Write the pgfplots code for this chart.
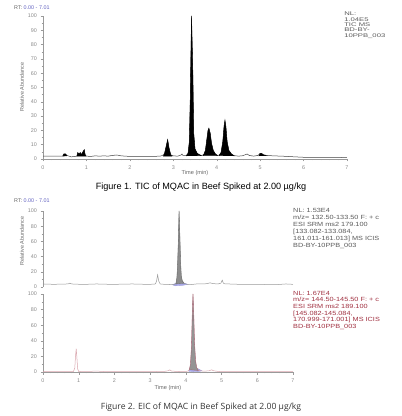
\documentclass[border=0pt]{standalone}
\usepackage{pgfplots}
\pgfplotsset{compat=1.18}
\usepackage{fontspec}
\setmainfont{Liberation Sans}
\newfontfamily\opensans{Open Sans}
\definecolor{tickgray}{HTML}{8A8A8A}
\definecolor{axgray}{HTML}{9A9A9A}
\definecolor{rtblue}{HTML}{6060C0}
\definecolor{pinktrace}{HTML}{D8A4AC}
\definecolor{pinkdark}{HTML}{A06070}
\definecolor{redtext}{HTML}{A03040}
\definecolor{blueshade}{HTML}{A8A8E8}
\pgfplotsset{
  chrom/.style={
    scale only axis, xmin=0, xmax=7, ymin=0, ymax=100,
    axis x line*=bottom, axis y line*=left,
    tick align=outside,
    axis line style={axgray, line width=0.5pt},
    every tick/.style={axgray, line width=0.4pt},
    major tick length=2.5pt, minor tick length=1.3pt,
    tick label style={font=\fontsize{5.4}{5.4}\selectfont, text=tickgray},
    /pgf/number format/assume math mode=true,
    xtick={0,...,7}, minor x tick num=4,
    clip=false,
  }
}
\begin{document}
\begin{tikzpicture}
\useasboundingbox (0,0) rectangle (402pt,416pt);

% ---------------- Figure 1 ----------------
\begin{axis}[chrom, at={(43pt,257pt)}, anchor=south west,
  width=304pt, height=143pt,
  ytick={0,10,...,100}, minor y tick num=1,
  xticklabel style={yshift=-1pt}]
\addplot[color=black!75, line width=0.5pt] coordinates {
(0,2)(0.3,2)(0.45,2)(0.48,3.5)(0.52,3.5)(0.55,2.5)(0.6,2)(0.65,1.5)(0.78,2)(0.8,4.5)(0.83,3.5)(0.86,4.5)(0.88,3)(0.92,5)(0.95,6.5)(0.97,3)(1.0,2)(1.1,1.8)(1.2,2.2)(1.3,2)(1.4,2.2)(1.5,2)(1.6,2.5)(1.7,2.8)(1.8,2.2)(1.9,2)(2.0,1.8)(2.2,1.8)(2.5,1.8)(2.7,2)(2.75,2.5)(2.8,4)(2.83,8)(2.87,13.5)(2.9,8)(2.94,3)(3.0,2.2)(3.1,2)(3.18,2.8)(3.2,3.5)(3.22,2.5)(3.3,2.5)(3.34,4)(3.37,12)(3.39,40)(3.42,100)(3.45,60)(3.47,18)(3.5,7)(3.55,4)(3.6,3)(3.65,2.5)(3.7,3)(3.74,6)(3.77,13)(3.8,20)(3.82,21.5)(3.85,18)(3.88,11)(3.92,6)(3.97,3.5)(4.02,2.5)(4.06,2.8)(4.1,4.5)(4.14,12)(4.17,23)(4.19,27)(4.21,23)(4.24,12)(4.28,6)(4.34,3.5)(4.4,2.4)(4.5,2)(4.6,2.3)(4.7,3.5)(4.75,2.5)(4.85,2)(4.95,2.5)(5.0,4)(5.03,4)(5.07,3)(5.15,2.5)(5.3,2.2)(5.5,2)(5.8,1.5)(6.0,1.2)(6.5,1.2)(7.0,1)};
% filled peaks
\addplot[fill=black, draw=black, line width=0.3pt] coordinates {(0.46,2)(0.48,3.5)(0.52,3.5)(0.55,2.2)} -- cycle;
\addplot[fill=black, draw=black, line width=0.3pt] coordinates {(0.78,2)(0.8,4.5)(0.83,3.5)(0.86,4.5)(0.88,3)(0.92,5)(0.95,6.5)(0.97,3)(0.99,2)} -- cycle;
\addplot[fill=black, draw=black, line width=0.3pt] coordinates {(2.77,2)(2.8,4)(2.83,8)(2.87,13.5)(2.9,8)(2.94,3)(2.97,2)} -- cycle;
\addplot[fill=black, draw=black, line width=0.3pt] coordinates {(3.3,2.2)(3.34,4)(3.37,12)(3.39,40)(3.42,100)(3.45,60)(3.47,18)(3.5,7)(3.55,4)(3.6,3)(3.65,2.3)} -- cycle;
\addplot[fill=black, draw=black, line width=0.3pt] coordinates {(3.68,2.3)(3.7,3)(3.74,6)(3.77,13)(3.8,20)(3.82,21.5)(3.85,18)(3.88,11)(3.92,6)(3.97,3.5)(4.02,2.3)} -- cycle;
\addplot[fill=black, draw=black, line width=0.3pt] coordinates {(4.05,2.3)(4.1,4.5)(4.14,12)(4.17,23)(4.19,27)(4.21,23)(4.24,12)(4.28,6)(4.34,3.5)(4.4,2.2)} -- cycle;
\addplot[fill=black, draw=black, line width=0.3pt] coordinates {(4.97,2.2)(5.0,4)(5.03,4)(5.07,3)(5.15,2.3)} -- cycle;
\end{axis}
\node[anchor=west, font=\fontsize{5.4}{5.4}\selectfont, inner sep=0pt] at (14pt,408pt) {\textcolor{black!60}{RT:} \textcolor{rtblue}{0.00 - 7.01}};
\node[rotate=90, font=\fontsize{5.4}{5.4}\selectfont, text=black!60, inner sep=0pt] at (22pt,329pt) {Relative Abundance};
\node[font=\fontsize{5.6}{5.6}\selectfont, text=black!60, inner sep=0pt] at (195pt,243pt) {Time (min)};
\node[anchor=north west, align=left, font=\fontsize{5.3}{5.3}\selectfont, text=black!65, inner sep=0pt, xscale=1.45] at (344pt,404pt) {NL:\\1.04E5\\TIC MS\\BD-BY-\\10PPB\_003};
\node[font=\fontsize{9.1}{10}\selectfont, inner sep=0pt] at (201pt,229pt) {Figure 1. TIC of MQAC in Beef Spiked at 2.00 µg/kg};

% ---------------- Figure 2 top ----------------
\begin{axis}[chrom, at={(43pt,129pt)}, anchor=south west,
  width=250pt, height=76pt,
  axis x line=none,
  ytick={0,20,...,100}, minor y tick num=1]
\addplot[fill=blueshade, draw=rtblue!60, line width=0.3pt] coordinates {(3.62,3)(3.7,1.5)(3.9,2)(4.05,3.5)(3.95,5)(3.7,4.5)} -- cycle;
\addplot[color=black!40, line width=0.5pt] coordinates {
(0,4)(0.3,3.5)(0.5,3.8)(0.7,4)(0.75,5)(0.8,4)(1.0,3.6)(1.2,3.5)(1.5,4)(1.8,3.6)(2.0,3.5)(2.3,3.8)(2.5,4)(2.8,3.6)(3.0,3.5)(3.15,4)(3.18,8)(3.21,16)(3.24,8)(3.28,4)(3.4,3.5)(3.5,3.5)(3.6,3)(3.68,3.5)(3.72,4)(3.75,12)(3.77,30)(3.79,60)(3.81,100)(3.83,70)(3.85,35)(3.87,15)(3.9,8)(3.95,5)(4.0,4)(4.1,3)(4.2,3.5)(4.3,4)(4.5,4)(4.6,4.5)(4.68,5.5)(4.75,4.5)(4.9,4)(4.98,5)(5.02,9)(5.05,5)(5.1,4)(5.2,4)(5.5,3.5)(6.0,3.5)(6.3,3.2)(6.5,3)(6.8,4)(7,3.5)};
\addplot[fill=black!45, draw=black!60, line width=0.3pt] coordinates {(3.72,4)(3.75,12)(3.77,30)(3.79,60)(3.81,100)(3.83,70)(3.85,35)(3.87,15)(3.9,8)(3.95,5)} -- cycle;
\end{axis}
\node[anchor=west, font=\fontsize{5.4}{5.4}\selectfont, inner sep=0pt] at (14pt,215pt) {\textcolor{black!60}{RT:} \textcolor{rtblue}{0.00 - 7.01}};
\node[rotate=90, font=\fontsize{5.4}{5.4}\selectfont, text=black!60, inner sep=0pt] at (22pt,175pt) {Relative Abundance};
\node[anchor=north west, align=left, font=\fontsize{6}{7}\selectfont, text=black!65, inner sep=0pt, xscale=1.22] at (293pt,208pt) {NL: 1.53E4\\m/z= 132.50-133.50 F: + c\\ESI SRM ms2 179.100\\{[}133.082-133.084,\\161.011-161.013{]}  MS  ICIS\\BD-BY-10PPB\_003};

% ---------------- Figure 2 bottom ----------------
\begin{axis}[chrom, at={(43pt,44pt)}, anchor=south west,
  width=250pt, height=78pt,
  ytick={0,20,...,100}, minor y tick num=1,
  xticklabel style={yshift=-1pt}]
\addplot[fill=blueshade, draw=rtblue!60, line width=0.3pt] coordinates {(4.08,1)(4.2,0.3)(4.35,0.5)(4.45,1.5)(4.35,4)(4.1,3)} -- cycle;
\addplot[color=pinktrace, line width=0.5pt] coordinates {
(0,0.5)(0.5,0.5)(0.85,0.6)(0.89,5)(0.91,20)(0.93,30)(0.95,18)(0.97,4)(1.0,0.6)(1.3,0.8)(1.5,1.2)(1.7,0.6)(2.0,0.5)(2.5,0.6)(3.0,0.5)(3.4,0.8)(3.5,1.5)(3.55,2.8)(3.6,1.2)(3.8,0.6)(4.05,1)(4.1,3)(4.13,10)(4.16,35)(4.18,75)(4.2,100)(4.22,75)(4.24,40)(4.27,15)(4.3,6)(4.35,2)(4.5,1)(4.65,1.5)(4.72,2.8)(4.78,1.5)(4.9,0.8)(5.0,0.5)(5.5,0.5)(6.0,0.5)(6.5,0.5)(7,0.5)};
\addplot[fill=black!42, draw=pinkdark, line width=0.3pt] coordinates {(4.1,3)(4.13,10)(4.16,35)(4.18,75)(4.2,100)(4.22,75)(4.24,40)(4.27,15)(4.3,6)(4.35,2)} -- cycle;
\end{axis}
\node[font=\fontsize{5.6}{5.6}\selectfont, text=black!60, inner sep=0pt] at (168pt,28pt) {Time (min)};
\node[anchor=north west, align=left, font=\fontsize{6}{6.6}\selectfont, text=redtext, inner sep=0pt, xscale=1.22] at (293pt,125pt) {NL: 1.67E4\\m/z= 144.50-145.50 F: + c\\ESI SRM ms2 189.100\\{[}145.082-145.084,\\170.999-171.001{]}  MS  ICIS\\BD-BY-10PPB\_003};
\node[font=\opensans\fontsize{8.6}{9}\selectfont, text=black!80, inner sep=0pt] at (201pt,9pt) {Figure 2. EIC of MQAC in Beef Spiked at 2.00 µg/kg};
\end{tikzpicture}
\end{document}
